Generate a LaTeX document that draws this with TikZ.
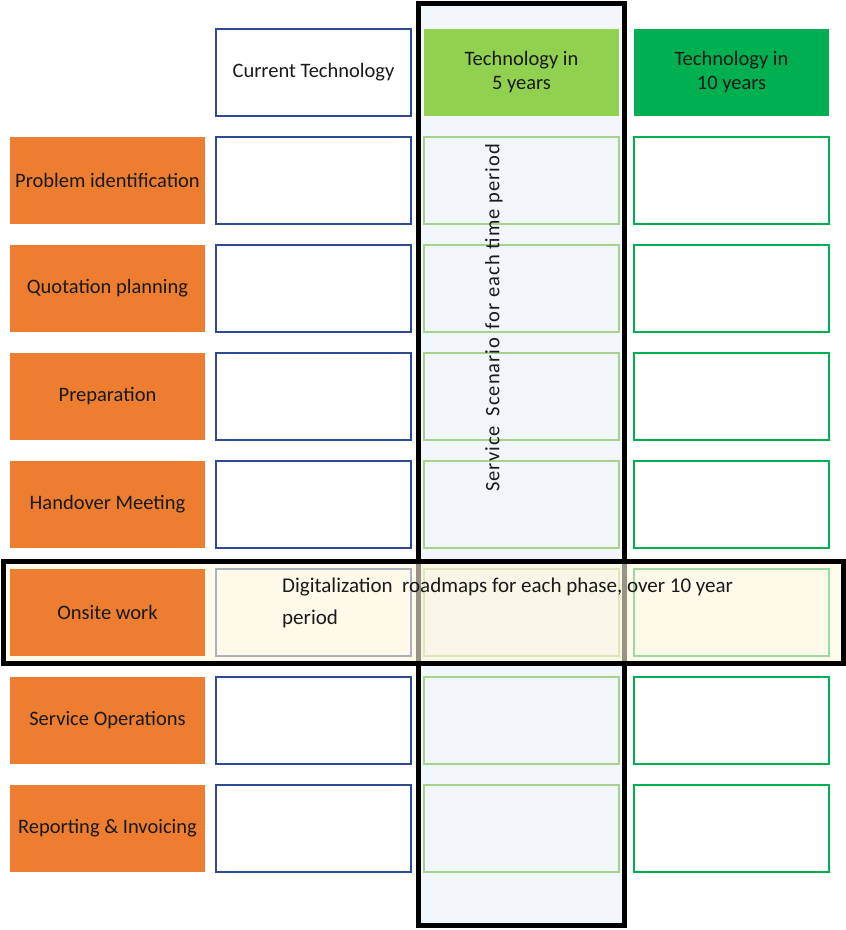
\documentclass[tikz,border=0pt]{standalone}
\usepackage{fontspec}
\setmainfont{Carlito}
\newfontfamily\spacedfont[LetterSpace=5]{Carlito}
\usepackage{tikz}
\usetikzlibrary{positioning}

\definecolor{phaseorange}{HTML}{ED7D31}
\definecolor{nowblue}{HTML}{2F4A94}
\definecolor{fivelight}{HTML}{A9D18E}
\definecolor{fivehead}{HTML}{92D050}
\definecolor{tengreen}{HTML}{00B050}
\definecolor{scenfill}{HTML}{F1F6FA}
\definecolor{roadfill}{HTML}{FFF6DC}
\definecolor{inktext}{HTML}{1A1A1A}

\begin{document}
\begin{tikzpicture}[x=1pt,y=-1pt,font=\fontsize{20.5}{24}\selectfont,text=inktext,
  cell/.style={rectangle,minimum width=195pt,minimum height=87pt,inner sep=2pt,align=center},
  phase/.style={cell,fill=phaseorange},
  nowbox/.style={cell,draw=nowblue,line width=1.5pt,fill=white},
  fivebox/.style={cell,draw=fivelight,line width=1.5pt},
  tenbox/.style={cell,draw=tengreen,line width=1.5pt,fill=white},
  frame/.style={draw=black,line width=5pt}]
  \useasboundingbox (0,0) rectangle (846,930);
  % vertical band: scenarios
  \draw[frame,fill=scenfill] (418.5,3.5) rectangle (624.5,925);
  % header row
  \node[nowbox] (hnow) at (313.5,72.5) {Current Technology};
  \node[cell,fill=fivehead] (hfive) at (521.5,72.5) {Technology in\\5 years};
  \node[cell,fill=tengreen] (hten) at (731.5,72.5) {Technology in\\10 years};
  % phase rows
  \foreach \name [count=\i] in {Problem identification,Quotation planning,Preparation,
      Handover Meeting,Onsite work,Service Operations,Reporting \& Invoicing} {
    \node[nowbox] (c\i) at (313.5,72.5+108*\i) {};
    \node[fivebox] (f\i) at (521.5,72.5+108*\i) {};
    \node[tenbox] (t\i) at (731.5,72.5+108*\i) {};
  }
  \node[rotate=90] (scen) at (494,318) {\spacedfont Service\hspace{4pt} Scenario\hspace{3pt} for each time period};
  % horizontal band: roadmaps
  \draw[frame,fill=roadfill,fill opacity=0.6] (3.5,561) rectangle (843,663);
  \foreach \name [count=\i] in {Problem identification,Quotation planning,Preparation,
      Handover Meeting,Onsite work,Service Operations,Reporting \& Invoicing}
    \node[phase] (p\i) at (107.5,72.5+108*\i) {\name};
  \node[anchor=north west,align=left,inner sep=0pt,font=\fontsize{21}{32}\selectfont] (road) at (282,578)
    {Digitalization\ \ roadmaps for each phase, over 10 year\\period};
\end{tikzpicture}
\end{document}
